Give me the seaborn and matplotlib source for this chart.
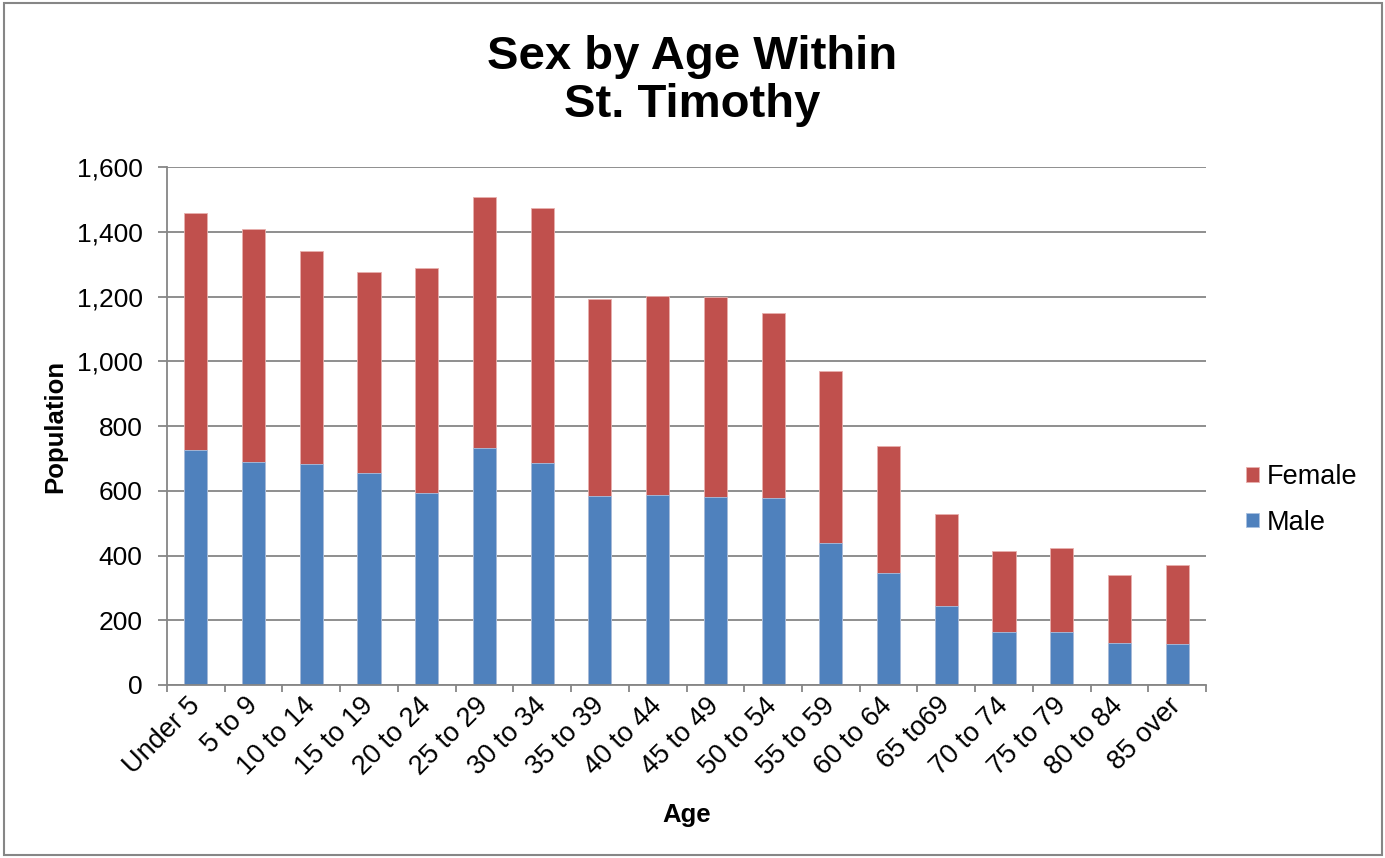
import matplotlib
matplotlib.use("Agg")
import matplotlib.pyplot as plt
import seaborn as sns
import pandas as pd
import numpy as np
from matplotlib.patches import Rectangle
from matplotlib.ticker import FuncFormatter, FixedLocator

ages = ["Under 5", "5 to 9", "10 to 14", "15 to 19", "20 to 24", "25 to 29",
        "30 to 34", "35 to 39", "40 to 44", "45 to 49", "50 to 54", "55 to 59",
        "60 to 64", "65 to69", "70 to 74", "75 to 79", "80 to 84", "85 over"]
male = [726, 689, 682, 655, 592, 731, 685, 583, 588, 582, 578, 438,
        345, 243, 165, 163, 129, 128]
female = [733, 719, 658, 622, 695, 775, 788, 609, 615, 615, 570, 533,
          394, 286, 250, 259, 210, 244]
yticks = [0, 200, 400, 600, 800, 1000, 1200, 1400, 1600]

df = pd.DataFrame({"Age": ages, "Male": male, "Female": female})
df["Total"] = df["Male"] + df["Female"]

sns.set_theme(style="white")
plt.rcParams["font.family"] = ["Liberation Sans", "DejaVu Sans"]
plt.rcParams["text.color"] = "black"
plt.rcParams["xtick.labelcolor"] = "black"
plt.rcParams["ytick.labelcolor"] = "black"

BLUE = "#4F81BD"
RED = "#C0504D"
GRID = "#868686"

fig = plt.figure(figsize=(13.85, 8.58), dpi=100)
fig.patch.set_facecolor("white")
fig.patches.append(Rectangle((4 / 1385, 3 / 858), 1378 / 1385, 852 / 858,
                             transform=fig.transFigure, fill=False,
                             edgecolor=GRID, linewidth=1.5))

ax = fig.add_axes([167 / 1385, 1 - 685 / 858, (1206 - 167) / 1385, (685 - 167) / 858])

sns.barplot(data=df, x="Age", y="Total", color=RED, width=0.4, ax=ax,
            label="Female", saturation=1, edgecolor="#e8b0ae", linewidth=0.6)
sns.barplot(data=df, x="Age", y="Male", color=BLUE, width=0.4, ax=ax,
            label="Male", saturation=1, edgecolor="#a9c1e0", linewidth=0.6)

ax.set_xlim(-0.5, len(ages) - 0.5)
ax.set_ylim(0, 1600)
ax.set_yticks(yticks)
ax.yaxis.set_major_formatter(FuncFormatter(lambda v, p: f"{int(v):,}"))
ax.yaxis.grid(True, color=GRID, linewidth=1.3)
ax.set_axisbelow(True)

for s in ["top", "right"]:
    ax.spines[s].set_visible(False)
for s in ["left", "bottom"]:
    ax.spines[s].set_color(GRID)
    ax.spines[s].set_linewidth(1.3)

ax.tick_params(axis="y", which="major", left=True, length=6.5, width=1.3,
               color=GRID, labelsize=19, pad=11, labelcolor="black")
ax.tick_params(axis="x", which="major", bottom=False, length=0, labelsize=19.5,
               pad=12, labelcolor="black")
ax.xaxis.set_minor_locator(FixedLocator(np.arange(-0.5, len(ages), 1.0)))
ax.tick_params(axis="x", which="minor", bottom=True, length=5, width=1.3, color=GRID)

for lbl in ax.get_xticklabels():
    lbl.set_rotation(45)
    lbl.set_ha("right")
    lbl.set_va("center")
    lbl.set_rotation_mode("anchor")

ax.set_xlabel("")
ax.set_ylabel("")

fig.text(0.5, 1 - 81 / 858, "Sex by Age Within\nSt. Timothy", ha="center", va="center",
         fontsize=34, fontweight="bold", linespacing=1.1, color="black")
fig.text(55 / 1385, 1 - 426 / 858, "Population", rotation=90, ha="center", va="center",
         fontsize=18.5, fontweight="bold", color="black")
fig.text(687 / 1385, 1 - 815 / 858, "Age", ha="center", va="center",
         fontsize=18.5, fontweight="bold", color="black")

handles, labels = ax.get_legend_handles_labels()
leg = ax.legend(handles, labels, loc="center left", bbox_to_anchor=(1222 / 1385, 1 - 500 / 858),
                bbox_transform=fig.transFigure, frameon=False, fontsize=19.5,
                handlelength=0.45, handleheight=0.45, handletextpad=0.3, labelspacing=0.72)
for t in leg.get_texts():
    t.set_color("black")

fig.savefig("out.png", dpi=100, facecolor="white")
